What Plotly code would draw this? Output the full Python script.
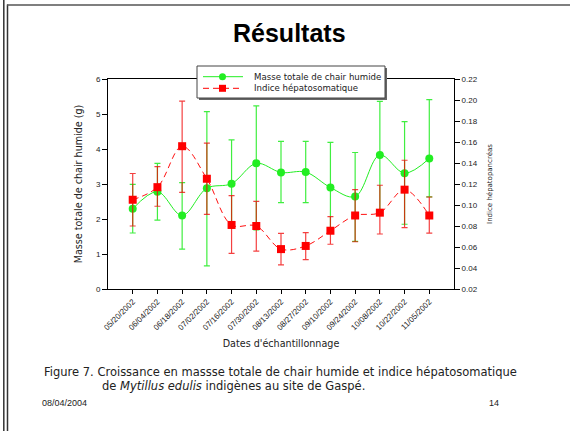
import plotly.graph_objects as go

dates = ["05/20/2002", "06/04/2002", "06/18/2002", "07/02/2002", "07/16/2002", "07/30/2002",
         "08/13/2002", "08/27/2002", "09/10/2002", "09/24/2002", "10/08/2002", "10/22/2002", "11/05/2002"]
masse = [2.29, 2.78, 2.10, 2.88, 3.01, 3.59, 3.33, 3.34, 2.90, 2.64, 3.83, 3.31, 3.73]
masse_hi = [2.99, 3.59, 3.04, 5.07, 4.26, 5.23, 4.22, 4.22, 4.19, 3.90, 5.36, 4.78, 5.41]
masse_lo = [1.60, 1.97, 1.14, 0.66, 1.74, 1.69, 2.47, 2.47, 1.60, 1.36, 2.20, 1.85, 2.63]
ihs = [0.105, 0.117, 0.156, 0.125, 0.081, 0.080, 0.058, 0.061, 0.0755, 0.090, 0.0927, 0.1146, 0.090]
ihs_hi = [0.130, 0.1365, 0.199, 0.159, 0.109, 0.1035, 0.073, 0.0736, 0.089, 0.1146, 0.1188, 0.1426, 0.1076]
ihs_lo = [0.080, 0.0988, 0.112, 0.091, 0.054, 0.056, 0.043, 0.048, 0.0626, 0.065, 0.0724, 0.0784, 0.0733]
series_names = ["Masse totale de chair humide", "Indice hépatosomatique"]

x = list(range(len(dates)))
FONT = "Arial, Liberation Sans, sans-serif"
WIDE = "DejaVu Sans, Arial, sans-serif"
GREEN = "#22ee22"
RED = "#ff0000"
TXT = "#222"

# plot area in pixels
L, R, T, B = 108, 454, 79, 289
W, H = 570, 431


def px(xp):
    return (xp - L) / (R - L)


def py(yp):
    return (B - yp) / (B - T)


fig = go.Figure()
fig.add_trace(go.Scatter(
    x=x, y=masse, name=series_names[0], mode="lines+markers", showlegend=False,
    line=dict(color=GREEN, width=1, shape="spline", smoothing=1),
    marker=dict(symbol="circle", size=8, color=GREEN),
    error_y=dict(type="data", symmetric=False,
                 array=[h - v for h, v in zip(masse_hi, masse)],
                 arrayminus=[v - l for l, v in zip(masse_lo, masse)],
                 color="rgba(30,235,30,0.85)", thickness=1.2, width=3),
))
fig.add_trace(go.Scatter(
    x=x, y=ihs, name=series_names[1], mode="lines+markers", yaxis="y2", showlegend=False,
    line=dict(color="#ff1010", width=1, dash="6px,4px", shape="spline", smoothing=1),
    marker=dict(symbol="square", size=8, color=RED),
    error_y=dict(type="data", symmetric=False,
                 array=[h - v for h, v in zip(ihs_hi, ihs)],
                 arrayminus=[v - l for l, v in zip(ihs_lo, ihs)],
                 color="rgba(240,0,0,0.75)", thickness=1.2, width=3),
))

axfont = dict(family=FONT, size=8, color=TXT)
fig.update_layout(
    width=W, height=H,
    margin=dict(l=L, r=W - R, t=T, b=H - B, pad=0),
    paper_bgcolor="white", plot_bgcolor="white",
    font=dict(family=FONT, color=TXT),
    showlegend=False,
    xaxis=dict(range=[-1, 13], tickmode="array", tickvals=x, ticktext=dates,
               tickangle=-45, tickfont=dict(family=FONT, size=8, color=TXT),
               ticks="outside", ticklen=4, tickcolor="black",
               showline=True, linecolor="black", linewidth=1, mirror=True,
               showgrid=False, zeroline=False,
               title=dict(text="Dates d'échantillonnage", font=dict(family=WIDE, size=9.6, color=TXT),
                          standoff=9)),
    yaxis=dict(range=[0, 6], tickvals=[0, 1, 2, 3, 4, 5, 6], tickfont=axfont,
               ticks="outside", ticklen=5, tickcolor="black",
               showline=True, linecolor="black", linewidth=1,
               showgrid=False, zeroline=False,
               title=dict(text="Masse totale de chair humide (g)", font=dict(family=WIDE, size=9.6, color=TXT),
                          standoff=11)),
    yaxis2=dict(range=[0.02, 0.22], overlaying="y", side="right",
                tickvals=[0.02, 0.04, 0.06, 0.08, 0.10, 0.12, 0.14, 0.16, 0.18, 0.20, 0.22],
                tickformat=".2f", tickfont=axfont,
                ticks="outside", ticklen=5, tickcolor="black",
                showline=True, linecolor="black", linewidth=1,
                showgrid=False, zeroline=False,
                title=dict(text="Indice hépatopancréas", font=dict(family=WIDE, size=7, color=TXT),
                           standoff=10)),
)

P = dict(xref="paper", yref="paper")
# slide frame
shapes = [
    dict(type="line", x0=px(3.8), x1=px(3.8), y0=py(0), y1=py(431), line=dict(color="#333", width=1.5)),
    dict(type="line", x0=px(7.5), x1=px(7.5), y0=py(4.5), y1=py(431), line=dict(color="#333", width=1.5)),
    dict(type="line", x0=px(7), x1=px(570), y0=py(5), y1=py(5), line=dict(color="#555", width=1.5)),
]
# legend box (with shadow)
lx0, lx1, ly0, ly1 = 197, 385, 66, 98
shapes += [
    dict(type="rect", x0=px(lx0 + 2), x1=px(lx1 + 2), y0=py(ly0 + 2), y1=py(ly1 + 2),
         line=dict(width=0), fillcolor="#666", layer="above"),
    dict(type="rect", x0=px(lx0), x1=px(lx1), y0=py(ly0), y1=py(ly1),
         line=dict(color="#444", width=1), fillcolor="white", layer="above"),
]
rows = [76.7, 88.3]
shapes += [
    dict(type="line", x0=px(203), x1=px(243), y0=py(rows[0]), y1=py(rows[0]),
         line=dict(color=GREEN, width=1), layer="above"),
    dict(type="circle", x0=px(222.5 - 3.5), x1=px(222.5 + 3.5), y0=py(rows[0] - 3.5), y1=py(rows[0] + 3.5),
         line=dict(width=0), fillcolor=GREEN, layer="above"),
    dict(type="line", x0=px(203), x1=px(243), y0=py(rows[1]), y1=py(rows[1]),
         line=dict(color=RED, width=1, dash="6px,4px"), layer="above"),
    dict(type="rect", x0=px(222.5 - 3.5), x1=px(222.5 + 3.5), y0=py(rows[1] - 3.5), y1=py(rows[1] + 3.5),
         line=dict(width=0), fillcolor=RED, layer="above"),
]
for s in shapes:
    s.update(P)
fig.update_layout(shapes=shapes)

ann = [
    dict(text="<b>Résultats</b>", x=px(289.5), y=py(33), font=dict(family=FONT, size=25, color="black"),
         xanchor="center", yanchor="middle"),
    dict(text=series_names[0], x=px(252), y=py(rows[0]), font=dict(family=WIDE, size=8.6, color=TXT),
         xanchor="left", yanchor="middle"),
    dict(text=series_names[1], x=px(252), y=py(rows[1]), font=dict(family=WIDE, size=8.6, color=TXT),
         xanchor="left", yanchor="middle"),
    dict(text="Figure 7. Croissance en massse totale de chair humide et indice hépatosomatique",
         x=px(42), y=py(372), font=dict(family=WIDE, size=11.5, color=TXT),
         xanchor="left", yanchor="middle"),
    dict(text="de <i>Mytillus edulis</i> indigènes au site de Gaspé.",
         x=px(100), y=py(386), font=dict(family=WIDE, size=11.5, color=TXT),
         xanchor="left", yanchor="middle"),
    dict(text="08/04/2004", x=px(40), y=py(403), font=dict(family=FONT, size=9, color=TXT),
         xanchor="left", yanchor="middle"),
    dict(text="14", x=px(501), y=py(403), font=dict(family=FONT, size=9, color=TXT),
         xanchor="right", yanchor="middle"),
]
for a in ann:
    a.update(P, showarrow=False)
fig.update_layout(annotations=ann)

fig.write_html("out.html", config={"displayModeBar": False},
               post_script="document.body.style.margin='0px';")
